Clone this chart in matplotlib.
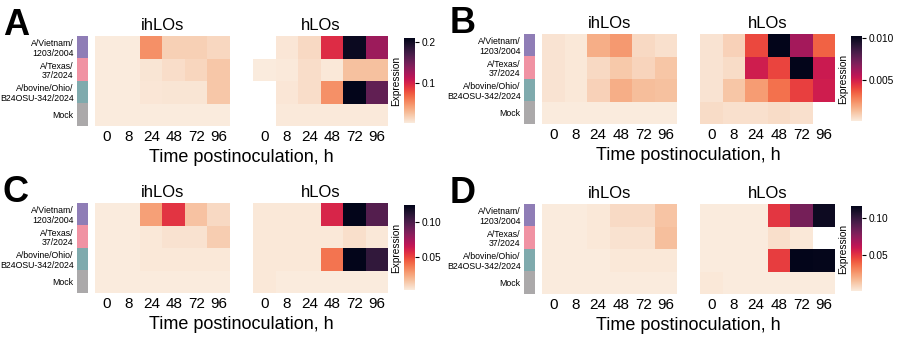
import numpy as np
import matplotlib
matplotlib.use("Agg")
import matplotlib.pyplot as plt
import seaborn as sns
from matplotlib.colors import to_rgb

plt.rcParams['font.family'] = ['Liberation Sans', 'DejaVu Sans']

strains = ["A/Vietnam/\n1203/2004", "A/Texas/\n37/2024",
           "A/bovine/Ohio/\nB24OSU-342/2024", "Mock"]
strain_colors = ["#8f7db6", "#f092a3", "#7faaad", "#aba9aa"]
timepoints = ["0", "8", "24", "48", "72", "96"]
nan = np.nan

# rows: Vietnam, Texas, bovine, Mock ; columns: 0-96 h
a_ihlo = [[0.002, 0.002, 0.050, 0.017, 0.017, 0.013],
          [0.002, 0.002, 0.006, 0.010, 0.014, 0.022],
          [0.002, 0.002, 0.005, 0.006, 0.006, 0.022],
          [0.002, 0.002, 0.002, 0.002, 0.002, 0.002]]
a_hlo = [[nan, 0.005, 0.012, 0.095, 0.205, 0.130],
         [0.002, 0.003, 0.010, 0.004, 0.025, 0.025],
         [nan, 0.005, 0.010, 0.050, 0.211, 0.158],
         [nan, 0.003, 0.003, 0.003, 0.003, 0.003]]

b_ihlo = [[0.0004, 0.0003, 0.0018, 0.0023, 0.0007, 0.0005],
          [0.0004, 0.0003, 0.0007, 0.0011, 0.0008, 0.0012],
          [0.0004, 0.0003, 0.0009, 0.0018, 0.0014, 0.0013],
          [0.0002, 0.0002, 0.0002, 0.0002, 0.0002, 0.0002]]
b_hlo = [[0.0004, 0.0009, 0.0040, 0.0102, 0.0061, 0.0035],
         [0.0004, 0.0006, 0.0051, 0.0041, 0.0102, 0.0052],
         [0.0004, 0.0012, 0.0022, 0.0032, 0.0042, 0.0051],
         [0.0006, 0.0005, 0.0005, 0.0006, 0.0005, nan]]

c_ihlo = [[0.002, 0.002, 0.026, 0.054, 0.015, 0.008],
          [0.002, 0.002, 0.003, 0.005, 0.005, 0.012],
          [0.002, 0.002, 0.003, 0.003, 0.003, 0.003],
          [0.002, 0.002, 0.002, 0.002, 0.002, 0.002]]
c_hlo = [[0.003, 0.003, 0.003, 0.059, 0.125, 0.098],
         [0.003, 0.003, 0.003, 0.003, 0.006, 0.003],
         [0.003, 0.003, 0.003, 0.038, 0.125, 0.109],
         [0.003, 0.002, 0.002, 0.002, 0.002, 0.002]]

d_ihlo = [[0.002, 0.002, 0.003, 0.007, 0.007, 0.014],
          [0.002, 0.002, 0.003, 0.005, 0.005, 0.015],
          [0.002, 0.002, 0.002, 0.003, 0.003, 0.003],
          [0.002, 0.002, 0.002, 0.002, 0.002, 0.002]]
d_hlo = [[0.002, 0.002, 0.002, 0.050, 0.082, 0.112],
         [0.002, 0.002, 0.002, 0.006, 0.003, nan],
         [0.002, 0.002, 0.002, 0.048, 0.116, 0.115],
         [0.003, 0.002, 0.002, 0.002, 0.002, 0.002]]

panels = [
    ("A", a_ihlo, a_hlo, [0.1, 0.2], ["0.1", "0.2"], (0, 0)),
    ("B", b_ihlo, b_hlo, [0.005, 0.010], ["0.005", "0.010"], (447, -2)),
    ("C", c_ihlo, c_hlo, [0.05, 0.10], ["0.05", "0.10"], (0, 167)),
    ("D", d_ihlo, d_hlo, [0.05, 0.10], ["0.05", "0.10"], (447, 168)),
]

W, H = 900, 341
fig = plt.figure(figsize=(W / 100, H / 100), dpi=100)
cmap = sns.color_palette("rocket_r", as_cmap=True)


def px(x0, y0, x1, y1):
    return [x0 / W, 1 - y1 / H, (x1 - x0) / W, (y1 - y0) / H]


def draw_heat(ax, data, vmin, vmax, title):
    m = ax.pcolormesh(np.ma.masked_invalid(np.array(data)), cmap=cmap,
                      vmin=vmin, vmax=vmax)
    ax.set_xlim(0, 6)
    ax.set_ylim(4, 0)
    ax.set_xticks(np.arange(6) + 0.5)
    ax.set_xticklabels(timepoints, fontsize=11)
    ax.set_yticks([])
    ax.tick_params(axis="x", length=0, pad=3)
    for s in ax.spines.values():
        s.set_visible(False)
    ax.set_title(title, fontsize=12, pad=4)
    return m


for letter, ihlo, hlo, cticks, clabels, (ox, oy) in panels:
    both = np.array(ihlo + hlo)
    vmin, vmax = np.nanmin(both), np.nanmax(both)

    fig.text((ox + 3) / W, 1 - (oy + 35) / H, letter, fontsize=26,
             fontweight="bold", va="baseline", ha="left")

    # strain colour strip with row labels
    sax = fig.add_axes(px(ox + 77, oy + 36, ox + 88, oy + 126))
    rgb = np.array([[to_rgb(c)] for c in strain_colors])
    sax.imshow(rgb, aspect="auto", extent=(0, 1, 4, 0))
    sax.set_xticks([])
    sax.set_yticks(np.arange(4) + 0.5)
    sax.set_yticklabels(strains, fontsize=6.3, linespacing=1.1, ha="right")
    sax.tick_params(axis="y", length=0, pad=2.5)
    for s in sax.spines.values():
        s.set_visible(False)

    ax1 = fig.add_axes(px(ox + 95, oy + 36, ox + 230, oy + 126))
    draw_heat(ax1, ihlo, vmin, vmax, "ihLOs")
    ax2 = fig.add_axes(px(ox + 253, oy + 36, ox + 388, oy + 126))
    mesh = draw_heat(ax2, hlo, vmin, vmax, "hLOs")

    fig.text((ox + 241) / W, 1 - (oy + 162) / H, "Time postinoculation, h",
             fontsize=13, ha="center", va="baseline")

    cax = fig.add_axes(px(ox + 404, oy + 38, ox + 415, oy + 123))
    cb = fig.colorbar(mesh, cax=cax)
    cb.outline.set_visible(False)
    cb.set_ticks(cticks)
    cb.set_ticklabels(clabels)
    cax.tick_params(labelsize=7.3, length=3, width=0.8, pad=2)
    cax.yaxis.set_label_position("left")
    cax.set_ylabel("Expression", fontsize=7.3, labelpad=2)

fig.savefig("out.png", dpi=100)
